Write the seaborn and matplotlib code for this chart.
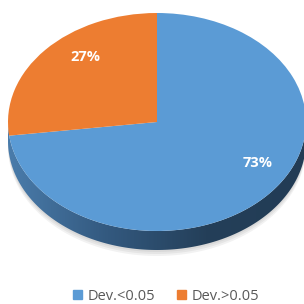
import numpy as np
import matplotlib
matplotlib.use("Agg")
import matplotlib.pyplot as plt
import seaborn as sns
from matplotlib.patches import Polygon
from matplotlib.colors import LinearSegmentedColormap

sns.set_theme(style="white")
plt.rcParams['font.family'] = ['Open Sans', 'DejaVu Sans']

categories = ["Dev.<0.05", "Dev.>0.05"]
values = [73, 27]
colors = ["#5B9BD5", "#ED7D31"]

W = H = 304
cx, cy, rx, ry, depth = 157, 122, 149, 109, 19

fig = plt.figure(figsize=(3.04, 3.04), dpi=100)
ax = fig.add_axes([0, 0, 1, 1])

# side of the 3D pie (gradient)
t = np.linspace(np.pi, 2 * np.pi, 200)
top = np.column_stack([np.cos(t), np.sin(t)])
bot = np.column_stack([np.cos(t[::-1]), np.sin(t[::-1]) - depth / ry])
poly = Polygon(np.vstack([top, bot]), closed=True, facecolor="none", edgecolor="none")
ax.add_patch(poly)
# soft shadow
for k, a in enumerate([0.05, 0.05, 0.05]):
    sh = Polygon(np.vstack([np.column_stack([np.cos(t), np.sin(t) - (depth + 2 + 2 * k) / ry]),
                            np.column_stack([np.cos(t[::-1]), np.sin(t[::-1])])]),
                 closed=True, facecolor="black", edgecolor="none", alpha=a, zorder=0)
    ax.add_patch(sh)
cmap = LinearSegmentedColormap.from_list("side", ["#4a7cab", "#33597f", "#243f59", "#223c55"])
grad = np.linspace(0, 1, 256).reshape(1, -1)
im = ax.imshow(grad, extent=[-1, 1, -1 - depth / ry, 0], cmap=cmap, aspect="auto", zorder=1)
im.set_clip_path(poly)

wedges, texts, autotexts = ax.pie(values, colors=colors, startangle=90, counterclock=False,
                                  autopct="%d%%", pctdistance=0.7,
                                  textprops=dict(color="white", fontsize=10.5, fontweight="bold"),
                                  wedgeprops=dict(linewidth=0))
for w in wedges:
    w.set_zorder(2)
autotexts[0].set_position((0.678, -0.376))
autotexts[1].set_position((-0.483, 0.60))
for a in autotexts:
    a.set_zorder(3)

ax.set_aspect("auto")
ax.set_xlim(-cx / rx, (W - cx) / rx)
ax.set_ylim((cy - H) / ry, cy / ry)
ax.axis("off")

handles = [plt.Rectangle((0, 0), 1, 1, color=c) for c in colors]
fig.legend(handles, categories, loc="center", bbox_to_anchor=(166 / W, 1 - 296 / H), ncol=2,
           frameon=False, fontsize=10.5, labelcolor="#595959", handlelength=0.65, handleheight=0.65,
           handletextpad=0.35, columnspacing=1.5)

fig.savefig("out.png", dpi=100)
